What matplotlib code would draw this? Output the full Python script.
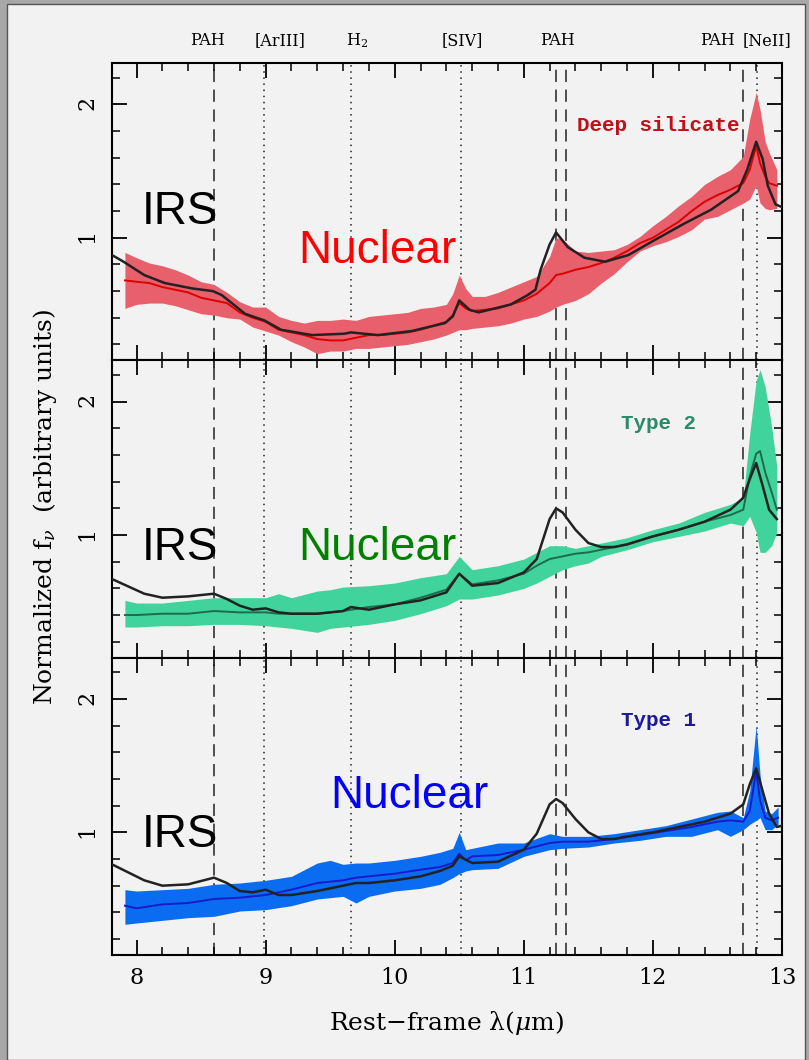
import matplotlib
matplotlib.use('Agg')
import matplotlib.pyplot as plt
from matplotlib.patches import Rectangle
from matplotlib.ticker import MultipleLocator

plt.rcParams['mathtext.fontset'] = 'dejavuserif'

# feature lines (micron)
dashed_lines = [8.6, 11.25, 11.33, 12.7]
dotted_lines = [8.99, 9.66, 10.51, 12.81]
line_names = ['PAH', '[ArIII]', 'H$_2$', '[SIV]', 'PAH', 'PAH', '[NeII]']

# ---- panel 1 : deep silicate ----
lam1_irs = [7.81, 7.9, 8.06, 8.22, 8.43, 8.59, 8.66, 8.75, 8.84, 8.99, 9.12, 9.36, 9.61, 9.66, 9.87,
            10.13, 10.39, 10.45, 10.50, 10.58, 10.65, 10.90, 11.03, 11.09, 11.13, 11.2, 11.25, 11.34,
            11.47, 11.63, 11.81, 11.99, 12.25, 12.45, 12.66, 12.73, 12.80, 12.85, 12.89, 12.95, 13.0]
irs1 = [0.87, 0.82, 0.72, 0.66, 0.62, 0.60, 0.57, 0.50, 0.43, 0.38, 0.31, 0.27, 0.28, 0.29, 0.27,
        0.30, 0.36, 0.41, 0.53, 0.46, 0.44, 0.50, 0.57, 0.61, 0.76, 0.95, 1.04, 0.93,
        0.85, 0.82, 0.87, 0.97, 1.11, 1.21, 1.35, 1.51, 1.72, 1.59, 1.39, 1.25, 1.23]
lam1 = [7.91, 8.0, 8.1, 8.2, 8.3, 8.4, 8.5, 8.6, 8.7, 8.8, 8.9, 9.0, 9.1, 9.2, 9.3, 9.4, 9.5, 9.6, 9.7,
        9.8, 9.9, 10.0, 10.1, 10.2, 10.3, 10.4, 10.45, 10.5, 10.55, 10.6, 10.7, 10.8, 10.9, 11.0, 11.1,
        11.2, 11.25, 11.3, 11.4, 11.5, 11.6, 11.7, 11.8, 11.9, 12.0, 12.1, 12.2, 12.3, 12.4, 12.5, 12.6,
        12.7, 12.75, 12.8, 12.83, 12.87, 12.9, 12.96]
hi1 = [0.89, 0.85, 0.81, 0.79, 0.76, 0.72, 0.67, 0.65, 0.59, 0.52, 0.48, 0.48, 0.41, 0.38, 0.36, 0.38,
       0.38, 0.39, 0.38, 0.41, 0.42, 0.43, 0.44, 0.47, 0.48, 0.50, 0.58, 0.72, 0.62, 0.56, 0.56, 0.59,
       0.63, 0.67, 0.71, 0.86, 1.00, 0.99, 0.90, 0.89, 0.90, 0.91, 0.95, 1.01, 1.09, 1.16, 1.24, 1.31,
       1.40, 1.46, 1.51, 1.61, 1.89, 2.09, 1.96, 1.72, 1.64, 1.51]
lo1 = [0.47, 0.50, 0.51, 0.51, 0.49, 0.46, 0.43, 0.42, 0.40, 0.39, 0.33, 0.30, 0.27, 0.22, 0.18, 0.13,
       0.15, 0.15, 0.17, 0.17, 0.18, 0.19, 0.20, 0.22, 0.24, 0.27, 0.29, 0.31, 0.31, 0.32, 0.33, 0.34,
       0.36, 0.39, 0.41, 0.45, 0.48, 0.50, 0.53, 0.58, 0.66, 0.73, 0.82, 0.90, 0.94, 0.97, 1.01, 1.06,
       1.14, 1.16, 1.21, 1.26, 1.29, 1.39, 1.26, 1.22, 1.21, 1.22]
mid1 = [0.68, 0.67, 0.66, 0.63, 0.61, 0.59, 0.55, 0.53, 0.51, 0.44, 0.40, 0.37, 0.31, 0.29, 0.27, 0.24,
        0.23, 0.23, 0.25, 0.27, 0.27, 0.28, 0.29, 0.31, 0.34, 0.37, 0.42, 0.51, 0.47, 0.45, 0.46, 0.47,
        0.50, 0.53, 0.58, 0.66, 0.72, 0.73, 0.76, 0.78, 0.81, 0.85, 0.90, 0.96, 1.00, 1.06, 1.12, 1.20,
        1.27, 1.32, 1.36, 1.41, 1.51, 1.69, 1.56, 1.46, 1.41, 1.39]

# ---- panel 2 : type 2 ----
lam2_irs = [7.81, 8.06, 8.2, 8.4, 8.6, 8.7, 8.8, 8.9, 9.0, 9.1, 9.2, 9.4, 9.6, 9.66, 9.8, 10.0, 10.2,
            10.4, 10.5, 10.6, 10.8, 11.0, 11.1, 11.2, 11.25, 11.3, 11.4, 11.5, 11.6, 11.7, 11.8, 12.0,
            12.2, 12.4, 12.6, 12.7, 12.75, 12.8, 12.85, 12.9, 12.96]
irs2 = [0.67, 0.56, 0.53, 0.54, 0.56, 0.52, 0.47, 0.44, 0.45, 0.42, 0.41, 0.41, 0.43, 0.46, 0.44, 0.48,
        0.51, 0.57, 0.71, 0.62, 0.64, 0.72, 0.82, 1.12, 1.20, 1.17, 1.04, 0.94, 0.91, 0.91, 0.93, 0.99,
        1.04, 1.10, 1.19, 1.28, 1.42, 1.54, 1.37, 1.19, 1.12]
lam2 = [7.91, 8.0, 8.2, 8.4, 8.6, 8.8, 9.0, 9.1, 9.2, 9.4, 9.5, 9.6, 9.8, 10.0, 10.2, 10.4, 10.5, 10.6,
        10.8, 11.0, 11.1, 11.2, 11.3, 11.4, 11.5, 11.6, 11.8, 12.0, 12.2, 12.4, 12.6, 12.7, 12.75, 12.8,
        12.83, 12.87, 12.92, 12.96]
hi2 = [0.51, 0.49, 0.49, 0.51, 0.53, 0.53, 0.53, 0.56, 0.53, 0.58, 0.59, 0.61, 0.62, 0.64, 0.68, 0.71,
       0.84, 0.74, 0.77, 0.82, 0.87, 0.92, 0.92, 0.90, 0.92, 0.94, 0.98, 1.04, 1.09, 1.17, 1.23, 1.28,
       1.76, 2.16, 2.24, 2.11, 1.81, 1.51]
lo2 = [0.31, 0.31, 0.32, 0.32, 0.33, 0.33, 0.32, 0.31, 0.30, 0.27, 0.30, 0.31, 0.33, 0.36, 0.41, 0.47,
       0.52, 0.52, 0.55, 0.60, 0.64, 0.69, 0.74, 0.77, 0.79, 0.84, 0.89, 0.95, 0.99, 1.03, 1.09, 1.07,
       1.14, 1.02, 0.87, 0.87, 0.92, 1.02]
mid2 = [0.40, 0.40, 0.41, 0.41, 0.43, 0.42, 0.42, 0.41, 0.41, 0.41, 0.42, 0.43, 0.46, 0.48, 0.53, 0.59,
        0.71, 0.63, 0.66, 0.71, 0.77, 0.82, 0.84, 0.86, 0.87, 0.89, 0.93, 0.99, 1.04, 1.10, 1.15, 1.19,
        1.44, 1.61, 1.63, 1.47, 1.32, 1.19]

# ---- panel 3 : type 1 ----
lam3_irs = [7.81, 8.06, 8.2, 8.4, 8.6, 8.7, 8.8, 8.9, 9.0, 9.1, 9.2, 9.4, 9.6, 9.7, 9.8, 10.0, 10.2,
            10.35, 10.45, 10.5, 10.6, 10.8, 11.0, 11.1, 11.2, 11.25, 11.3, 11.4, 11.5, 11.6, 11.7, 11.8,
            12.0, 12.2, 12.4, 12.6, 12.7, 12.75, 12.8, 12.85, 12.9, 12.96, 13.0]
irs3 = [0.76, 0.64, 0.60, 0.61, 0.66, 0.62, 0.56, 0.55, 0.57, 0.53, 0.53, 0.56, 0.60, 0.62, 0.62, 0.64,
        0.67, 0.71, 0.75, 0.82, 0.77, 0.78, 0.87, 0.99, 1.21, 1.25, 1.22, 1.10, 1.00, 0.95, 0.95, 0.97,
        1.00, 1.04, 1.08, 1.14, 1.21, 1.36, 1.48, 1.31, 1.14, 1.04, 1.05]
lam3 = [7.91, 8.0, 8.2, 8.4, 8.6, 8.8, 9.0, 9.2, 9.4, 9.5, 9.6, 9.7, 9.8, 10.0, 10.2, 10.35, 10.45,
        10.5, 10.55, 10.6, 10.8, 11.0, 11.2, 11.3, 11.5, 11.7, 11.9, 12.1, 12.3, 12.5, 12.6, 12.7, 12.75,
        12.8, 12.83, 12.87, 12.92, 12.97]
hi3 = [0.57, 0.56, 0.57, 0.58, 0.61, 0.62, 0.64, 0.67, 0.77, 0.79, 0.76, 0.77, 0.77, 0.79, 0.82, 0.85,
       0.88, 1.00, 0.87, 0.88, 0.92, 0.92, 0.99, 0.97, 0.97, 0.99, 1.02, 1.05, 1.10, 1.15, 1.16, 1.11,
       1.31, 1.80, 1.43, 1.16, 1.14, 1.19]
lo3 = [0.31, 0.32, 0.34, 0.36, 0.37, 0.41, 0.42, 0.45, 0.50, 0.51, 0.52, 0.47, 0.52, 0.56, 0.58, 0.61,
       0.66, 0.69, 0.71, 0.72, 0.73, 0.82, 0.87, 0.88, 0.89, 0.92, 0.94, 0.97, 0.97, 1.02, 0.97, 1.02,
       1.06, 1.09, 1.11, 1.02, 1.02, 1.06]
mid3 = [0.45, 0.43, 0.46, 0.47, 0.50, 0.51, 0.53, 0.57, 0.62, 0.63, 0.64, 0.66, 0.67, 0.69, 0.72, 0.74,
        0.77, 0.84, 0.79, 0.82, 0.83, 0.87, 0.92, 0.93, 0.93, 0.95, 0.98, 1.01, 1.04, 1.08, 1.09, 1.08,
        1.16, 1.46, 1.24, 1.11, 1.09, 1.11]

panels = [
    dict(lam_irs=lam1_irs, irs=irs1, lam=lam1, lo=lo1, hi=hi1, mid=mid1, name='Deep silicate',
         band='#e8606c', line='#dd0000', nuc='#ff0000', tag='#c0101a', irs_y=1.10, nuc_xy=(9.25, 0.81)),
    dict(lam_irs=lam2_irs, irs=irs2, lam=lam2, lo=lo2, hi=hi2, mid=mid2, name='Type 2',
         band='#40d49c', line='#1e6b4f', nuc='#008000', tag='#2a8a6a', irs_y=0.81, nuc_xy=(9.25, 0.81)),
    dict(lam_irs=lam3_irs, irs=irs3, lam=lam3, lo=lo3, hi=hi3, mid=mid3, name='Type 1',
         band='#0a6cf0', line='#1a1acc', nuc='#0000ff', tag='#1a1a9a', irs_y=0.89, nuc_xy=(9.50, 1.18)),
]

fig = plt.figure(figsize=(8.09, 10.60), dpi=100)
fig.patch.set_facecolor('#a8a8a8')
fig.add_artist(Rectangle((7 / 809, 0), 798 / 809, 1 - 4 / 1060, transform=fig.transFigure,
                         facecolor='#f2f2f2', edgecolor='#555555', lw=1.0, zorder=0))

left, width = 112 / 809, 670 / 809
h = 297.3 / 1060
bottom0 = 1 - 955 / 1060
axes = []
for i, p in enumerate(panels):
    ax = fig.add_axes([left, bottom0 + (2 - i) * h, width, h])
    ax.set_facecolor('#f2f2f2')
    axes.append(ax)

    for x in dashed_lines:
        ax.axvline(x, color='#222222', lw=1.1, ls=(0, (8, 5)), zorder=1)
    for x in dotted_lines:
        ax.axvline(x, color='#222222', lw=1.1, ls=(0, (1, 3)), zorder=1)

    ax.fill_between(p['lam'], p['lo'], p['hi'], color=p['band'], lw=0, zorder=2)
    ax.plot(p['lam'], p['mid'], color=p['line'], lw=1.4, zorder=3)
    ax.plot(p['lam_irs'], p['irs'], color='#222222', lw=1.8, zorder=4)

    ax.set_xlim(7.81, 13.0)
    ax.set_ylim(0.08, 2.31)
    ax.xaxis.set_major_locator(MultipleLocator(1))
    ax.xaxis.set_minor_locator(MultipleLocator(0.2))
    ax.yaxis.set_major_locator(MultipleLocator(1))
    ax.yaxis.set_minor_locator(MultipleLocator(0.2))
    ax.tick_params(which='both', direction='in', top=True, right=True, color='black')
    ax.tick_params(which='major', length=11, width=1.3)
    ax.tick_params(which='minor', length=6, width=1.1)
    ax.tick_params(axis='y', labelrotation=90, labelsize=16, pad=10)
    ax.tick_params(axis='x', labelsize=16, pad=9)
    for lab in ax.get_yticklabels():
        lab.set_family('DejaVu Serif')
    for lab in ax.get_xticklabels():
        lab.set_family('DejaVu Serif')
    for s in ax.spines.values():
        s.set_linewidth(1.5)
    if i < 2:
        ax.tick_params(axis='x', labelbottom=False)

    ax.text(8.04, p['irs_y'], 'IRS', color='black', fontsize=33, family='Liberation Sans',
            ha='left', va='baseline', zorder=6)
    ax.text(p['nuc_xy'][0], p['nuc_xy'][1], 'Nuclear', color=p['nuc'], fontsize=33,
            family='Liberation Sans', ha='left', va='baseline', zorder=6)
    ax.text(12.04, 1.84, p['name'], color=p['tag'], fontsize=15, family='Liberation Mono',
            fontweight='bold', ha='center', va='center', zorder=6)

# labels of the features above the top panel
label_x = [8.55, 9.11, 9.71, 10.52, 11.26, 12.5, 12.88]
for x, name in zip(label_x, line_names):
    axes[0].text(x, 1.075, name, transform=axes[0].get_xaxis_transform(), ha='center', va='center',
                 fontsize=11.5, family='DejaVu Serif')

fig.text(447 / 809, 1 - 1023 / 1060, 'Rest\u2212frame \u03bb($\\mu$m)', ha='center', va='center',
         fontsize=18, family='DejaVu Serif')
fig.text(45 / 809, 1 - 507 / 1060, 'Normalized f$_\\nu$  (arbitrary units)', ha='center',
         va='center', rotation=90, fontsize=18, family='DejaVu Serif')

fig.savefig('out.png', dpi=100, facecolor=fig.get_facecolor())
